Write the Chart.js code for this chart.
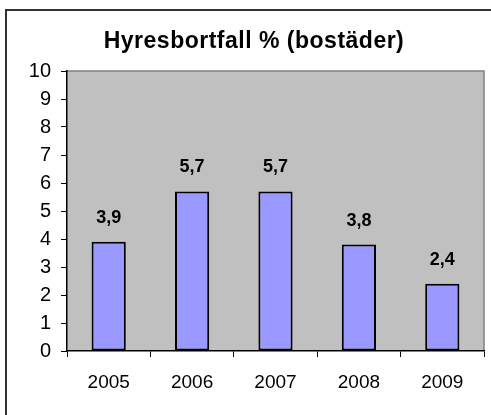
<!DOCTYPE html>
<html>
<head>
<meta charset="utf-8">
<script src="https://cdn.jsdelivr.net/npm/chart.js@4.4.0/dist/chart.umd.min.js"></script>
<style>
  html, body { margin: 0; padding: 0; background: #fff; overflow: hidden; }
  #wrap { position: relative; width: 491px; height: 415px; }
</style>
</head>
<body>
<div id="wrap"><canvas id="rentChart" width="491" height="415"></canvas></div>
<script>
// Chart data
const chartTitle = "Hyresbortfall % (bostäder)";
const years = ["2005", "2006", "2007", "2008", "2009"];
const lossValues = [3.9, 5.7, 5.7, 3.8, 2.4];
const yTicks = [0, 1, 2, 3, 4, 5, 6, 7, 8, 9, 10];

const FONT = "'Liberation Sans', Arial, sans-serif";

// white page, outer frame, gray plot background and title
const frameAndBackground = {
  id: "frameAndBackground",
  beforeDraw(chart) {
    const { ctx, chartArea } = chart;
    ctx.save();
    ctx.fillStyle = "#fff";
    ctx.fillRect(0, 0, chart.width, chart.height);
    ctx.strokeStyle = "#333";
    ctx.lineWidth = 2;
    ctx.strokeRect(6, 10, 496, chart.height + 20);
    ctx.fillStyle = "#c0c0c0";
    ctx.fillRect(chartArea.left, chartArea.top, chartArea.right - chartArea.left, chartArea.bottom - chartArea.top);
    ctx.strokeStyle = "#808080";
    ctx.lineWidth = 1.5;
    ctx.beginPath();
    ctx.moveTo(chartArea.left, chartArea.top);
    ctx.lineTo(chartArea.right, chartArea.top);
    ctx.lineTo(chartArea.right, chartArea.bottom);
    ctx.stroke();

    // title, centred on the outer frame
    ctx.font = "bold 23px " + FONT;
    ctx.letterSpacing = "0.5px";
    ctx.fillStyle = "#000";
    ctx.textAlign = "center";
    ctx.textBaseline = "alphabetic";
    ctx.fillText(chartTitle, 254, 48);
    ctx.restore();
  }
};

// value labels above bars, with decimal comma
const valueLabels = {
  id: "valueLabels",
  afterDatasetsDraw(chart) {
    const { ctx } = chart;
    const meta = chart.getDatasetMeta(0);
    ctx.save();
    ctx.font = "bold 18px " + FONT;
    ctx.fillStyle = "#000";
    ctx.textAlign = "center";
    ctx.textBaseline = "alphabetic";
    meta.data.forEach((bar, i) => {
      ctx.fillText(String(lossValues[i]).replace(".", ","), bar.x, bar.y - 19);
    });
    ctx.restore();
  }
};

new Chart(document.getElementById("rentChart").getContext("2d"), {
  type: "bar",
  data: {
    labels: years,
    datasets: [{
      data: lossValues,
      backgroundColor: "#9999ff",
      borderColor: "#000",
      borderWidth: 2,
      borderSkipped: false,
      barPercentage: 0.41,
      categoryPercentage: 1
    }]
  },
  options: {
    responsive: false,
    animation: false,
    layout: { padding: { top: 71, right: 7, left: 0, bottom: 0 } },
    scales: {
      x: {
        grid: { drawOnChartArea: false, drawTicks: true, tickLength: 6, color: "#000", offset: true },
        border: { color: "#000", width: 1.5 },
        ticks: { color: "#000", font: { family: FONT, size: 19 }, padding: 14 },
        afterFit(scale) { scale.height = 64; }
      },
      y: {
        min: 0,
        max: 10,
        afterBuildTicks(scale) { scale.ticks = yTicks.map(v => ({ value: v })); },
        grid: { drawOnChartArea: false, drawTicks: true, tickLength: 6, color: "#000" },
        border: { color: "#000", width: 1.5 },
        ticks: { color: "#000", font: { family: FONT, size: 20 }, padding: 10 },
        afterFit(scale) { scale.width = 67; }
      }
    },
    plugins: {
      legend: { display: false },
      tooltip: { enabled: false },
      title: { display: false }
    }
  },
  plugins: [frameAndBackground, valueLabels]
});
</script>
</body>
</html>
